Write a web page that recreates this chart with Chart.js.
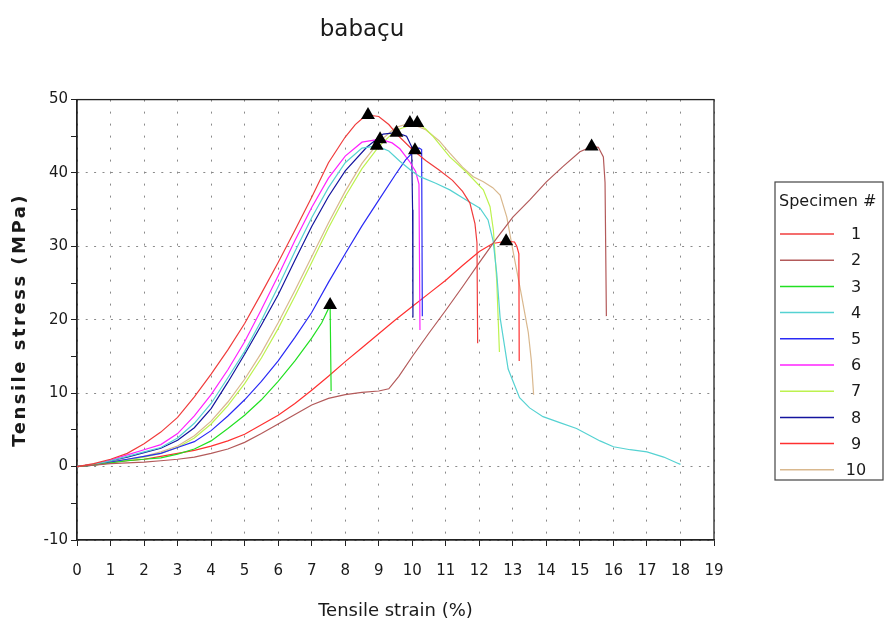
<!DOCTYPE html>
<html>
<head>
<meta charset="utf-8">
<title>babaçu</title>
<script src="https://cdn.jsdelivr.net/npm/chart.js@4.4.0/dist/chart.umd.min.js"></script>
<style>
  body { margin: 0; background: #fff; }
</style>
</head>
<body>
<canvas id="myChart" width="888" height="628"></canvas>
<script>
const chartTitle = 'babaçu';
const xTitle = 'Tensile strain (%)';
const yTitle = 'Tensile stress (MPa)';
const legendTitle = 'Specimen #';

const specimens = ['1', '2', '3', '4', '5', '6', '7', '8', '9', '10'];
const lineColors = ['#f03c3c', '#b35a5a', '#22e022', '#55d2d2', '#2a2af5',
                    '#ff22ff', '#bdf24f', '#14149e', '#ff3030', '#d9b88e'];

const strain1 = [0,0.5,1,1.5,2,2.5,3,3.5,4,4.5,5,5.5,6,6.5,7,7.5,8,8.3,8.5,8.68,9.0,9.3,9.6,10.0,10.4,10.8,11.2,11.5,11.72,11.87,11.93,11.95];
const stress1 = [0,0.4,1.0,1.8,3.1,4.7,6.7,9.5,12.6,15.9,19.5,23.6,27.8,32.2,36.7,41.4,44.9,46.6,47.4,47.9,47.7,46.6,45.0,43.2,41.7,40.4,39.0,37.5,35.9,33.1,30.5,16.8];

const strain2 = [0,0.5,1,1.5,2,2.5,3,3.5,4,4.5,5,5.5,6,6.5,7,7.5,8,8.5,9,9.3,9.6,10,10.5,11,11.5,12,12.5,13,13.5,14,14.5,15,15.35,15.55,15.7,15.75,15.79];
const stress2 = [0,0.2,0.4,0.5,0.6,0.8,1.0,1.3,1.8,2.4,3.3,4.5,5.8,7.1,8.4,9.3,9.8,10.1,10.3,10.6,12.3,15.0,18.2,21.3,24.5,27.8,31.0,34.0,36.3,38.8,40.9,42.9,43.6,43.5,42.2,38.7,20.5];

const strain3 = [0,0.5,1,1.5,2,2.5,3,3.5,4,4.5,5,5.5,6,6.5,7,7.3,7.55,7.58];
const stress3 = [0,0.2,0.5,0.8,1.0,1.2,1.7,2.4,3.5,5.2,7.0,9.1,11.6,14.4,17.5,19.6,22.0,10.3];

const strain4 = [0,0.5,1,1.5,2,2.5,3,3.5,4,4.5,5,5.5,6,6.5,7,7.5,8,8.5,8.94,9.3,9.63,10.0,10.23,10.7,11.12,11.62,12.02,12.26,12.41,12.52,12.62,12.86,13.2,13.5,13.9,14.4,14.9,15.6,16.0,16.5,17.0,17.5,17.9,18.0];
const stress4 = [0,0.3,0.8,1.4,2.0,2.6,3.9,5.9,8.6,12.1,15.7,19.9,24.5,29.3,33.9,38.0,41.4,43.4,43.7,43.0,41.6,40.2,39.5,38.6,37.7,36.3,35.2,33.6,30.8,26.3,20.3,13.3,9.4,8.0,6.8,6.0,5.2,3.5,2.7,2.3,2.0,1.3,0.5,0.3];

const strain5 = [0,0.5,1,1.5,2,2.5,3,3.5,4,4.5,5,5.5,6,6.5,7,7.5,8,8.5,9,9.5,9.8,10.08,10.2,10.28,10.3];
const stress5 = [0,0.2,0.6,1.0,1.4,1.8,2.6,3.4,4.9,6.9,9.1,11.6,14.4,17.6,21.0,25.1,29.0,32.8,36.3,39.8,41.8,43.1,43.4,43.2,20.5];

const strain6 = [0,0.5,1,1.5,2,2.5,3,3.5,4,4.5,5,5.5,6,6.5,7,7.5,8,8.5,9.04,9.4,9.63,9.93,10.1,10.2,10.23];
const stress6 = [0,0.3,0.9,1.6,2.3,3.0,4.5,6.9,9.8,13.2,17.0,21.4,26.0,30.8,35.3,39.3,42.3,44.2,44.6,44.1,43.3,41.5,40.2,38.5,18.6];

const strain7 = [0,0.5,1,1.5,2,2.5,3,3.5,4,4.5,5,5.5,6,6.5,7,7.5,8,8.5,9,9.5,10.0,10.15,10.4,10.62,11.12,11.62,12.12,12.32,12.42,12.52,12.6];
const stress7 = [0,0.3,0.6,0.9,1.3,1.8,2.6,3.9,5.8,8.3,11.3,14.8,18.8,23.2,27.8,32.5,36.8,40.6,43.6,45.8,46.6,46.8,46.0,45.0,42.2,40.1,37.7,35.4,32.2,25.3,15.6];

const strain8 = [0,0.5,1,1.5,2,2.5,3,3.5,4,4.5,5,5.5,6,6.5,7,7.5,8,8.64,9.13,9.53,9.83,9.98,10.01,10.02];
const stress8 = [0,0.3,0.8,1.3,1.9,2.5,3.6,5.3,7.9,11.5,15.3,19.3,23.4,28.1,32.7,36.8,40.3,43.5,45.3,45.5,45.0,43.6,35.0,20.3];

const strain9 = [0,0.5,1,1.5,2,2.5,3,3.5,4,4.5,5,5.5,6,6.5,7,7.5,8,8.5,9,9.5,10,10.5,11,11.5,12,12.4,12.8,13.05,13.12,13.18,13.19];
const stress9 = [0,0.3,0.6,0.8,1.0,1.4,1.8,2.2,2.8,3.5,4.4,5.7,7.0,8.6,10.4,12.3,14.3,16.2,18.1,20.0,21.8,23.6,25.4,27.4,29.3,30.4,30.7,30.6,30.0,29.0,14.4];

const strain10 = [0,0.5,1,1.5,2,2.5,3,3.5,4,4.5,5,5.5,6,6.5,7,7.5,8,8.5,9,9.5,9.93,10.4,10.8,11.12,11.5,11.82,12.12,12.4,12.62,12.82,13.0,13.26,13.46,13.55,13.62];
const stress10 = [0,0.3,0.7,1.0,1.4,2.0,2.8,4.2,6.2,8.8,11.9,15.5,19.6,24.0,28.6,33.2,37.5,41.3,44.2,46.2,46.8,45.9,44.4,42.7,40.8,39.5,38.8,38.0,37.0,34.0,29.5,23.3,18.3,14.5,9.8];

// break points (triangles)
const peakStrain = [8.68, 15.35, 7.55, 8.94, 10.08, 9.04, 10.15, 9.53, 12.8, 9.93];
const peakStress = [47.9, 43.6, 22.0, 43.7, 43.1, 44.6, 46.8, 45.5, 30.7, 46.8];

const xTicks = [0, 1, 2, 3, 4, 5, 6, 7, 8, 9, 10, 11, 12, 13, 14, 15, 16, 17, 18, 19];
const yLabelled = [-10, 0, 10, 20, 30, 40, 50];

const strains = [strain1, strain2, strain3, strain4, strain5, strain6, strain7, strain8, strain9, strain10];
const stresses = [stress1, stress2, stress3, stress4, stress5, stress6, stress7, stress8, stress9, stress10];

function toPoints(xs, ys) {
  return xs.map((x, i) => ({x: x, y: ys[i]}));
}

const datasets = specimens.map((name, i) => ({
  label: name,
  data: toPoints(strains[i], stresses[i]),
  borderColor: lineColors[i],
  backgroundColor: lineColors[i],
  borderWidth: 1.2,
  showLine: true,
  pointRadius: 0,
  tension: 0,
  order: 2
}));

datasets.push({
  label: 'peaks',
  data: toPoints(peakStrain, peakStress),
  pointStyle: 'triangle',
  pointRadius: 8,
  backgroundColor: '#000',
  borderColor: '#000',
  borderWidth: 0,
  showLine: false,
  order: 1
});

const fontFam = "'DejaVu Sans', Verdana, sans-serif";

// box around plot area
const frame = {
  id: 'frame',
  beforeDatasetsDraw(chart) {
    const {ctx, chartArea: a} = chart;
    ctx.save();
    ctx.strokeStyle = '#222';
    ctx.lineWidth = 1.3;
    ctx.strokeRect(a.left, a.top, a.right - a.left, a.bottom - a.top);
    ctx.restore();
  }
};

// wider letter spacing for the y axis title, like the original
const spacedTitle = {
  id: 'spacedTitle',
  afterLayout(chart) {
    const s = chart.scales.y;
    if (s._spaced) return;
    const orig = s.drawTitle.bind(s);
    s.drawTitle = function () {
      const c = this.ctx;
      c.save();
      c.letterSpacing = '2.5px';
      orig();
      c.restore();
    };
    s._spaced = true;
  }
};

// legend drawn as a boxed list on the right
const boxLegend = {
  id: 'boxLegend',
  afterDraw(chart) {
    const {ctx, chartArea: a} = chart;
    const left = a.right + 61, top = 182, w = 108, h = 298;
    ctx.save();
    ctx.strokeStyle = '#444';
    ctx.lineWidth = 1.2;
    ctx.strokeRect(left, top, w, h);
    ctx.fillStyle = '#1a1a1a';
    ctx.font = '16px ' + fontFam;
    ctx.textBaseline = 'middle';
    ctx.textAlign = 'left';
    ctx.fillText(legendTitle, left + 4, top + 20);
    specimens.forEach((name, i) => {
      const y = top + 52 + i * 26.2;
      ctx.strokeStyle = lineColors[i];
      ctx.lineWidth = 1.5;
      ctx.beginPath();
      ctx.moveTo(left + 5, y);
      ctx.lineTo(left + 59, y);
      ctx.stroke();
      ctx.textAlign = 'center';
      ctx.font = '16px ' + fontFam;
      ctx.fillText(name, left + 81, y + 1);
    });
    ctx.restore();
  }
};

const ctx = document.getElementById('myChart');

new Chart(ctx, {
  type: 'scatter',
  data: { datasets: datasets },
  options: {
    responsive: false,
    animation: false,
    layout: { padding: { left: 10, right: 174, top: 0, bottom: 0 } },
    plugins: {
      legend: { display: false },
      tooltip: { enabled: false },
      title: {
        display: true,
        text: chartTitle,
        color: '#1a1a1a',
        font: { family: fontFam, size: 23, weight: 'normal' },
        padding: { top: 16, bottom: 56 }
      }
    },
    scales: {
      x: {
        type: 'linear',
        min: 0,
        max: 19,
        afterBuildTicks: (s) => { s.ticks = xTicks.map(v => ({value: v})); },
        afterFit: (s) => { s.height = 88; },
        ticks: {
          autoSkip: false,
          maxRotation: 0,
          padding: 16,
          color: '#1a1a1a',
          font: { family: fontFam, size: 15 }
        },
        grid: {
          color: '#8a8a8a',
          lineWidth: 1,
          tickColor: '#222',
          tickLength: 6
        },
        border: { color: '#222', width: 1.3, dash: [2, 10] },
        title: {
          display: true,
          text: xTitle,
          color: '#1a1a1a',
          font: { family: fontFam, size: 18 },
          padding: { top: 0, bottom: 6 }
        }
      },
      y: {
        type: 'linear',
        min: -10,
        max: 50,
        ticks: {
          stepSize: 5,
          autoSkip: false,
          padding: 3,
          color: '#1a1a1a',
          font: { family: fontFam, size: 15 },
          callback: (v) => yLabelled.includes(v) ? String(v) : ''
        },
        afterFit: (s) => { s.width = 67; },
        grid: {
          color: (c) => (c.tick && yLabelled.includes(c.tick.value)) ? '#8a8a8a' : 'rgba(0,0,0,0)',
          lineWidth: 1,
          tickColor: '#222',
          tickLength: 6
        },
        border: { color: '#222', width: 1.3, dash: [2, 6.4] },
        title: {
          display: true,
          text: yTitle,
          color: '#1a1a1a',
          font: { family: fontFam, size: 18, weight: 'bold' },
          padding: { top: 0, bottom: 0 }
        }
      }
    }
  },
  plugins: [frame, spacedTitle, boxLegend]
});
</script>
</body>
</html>
